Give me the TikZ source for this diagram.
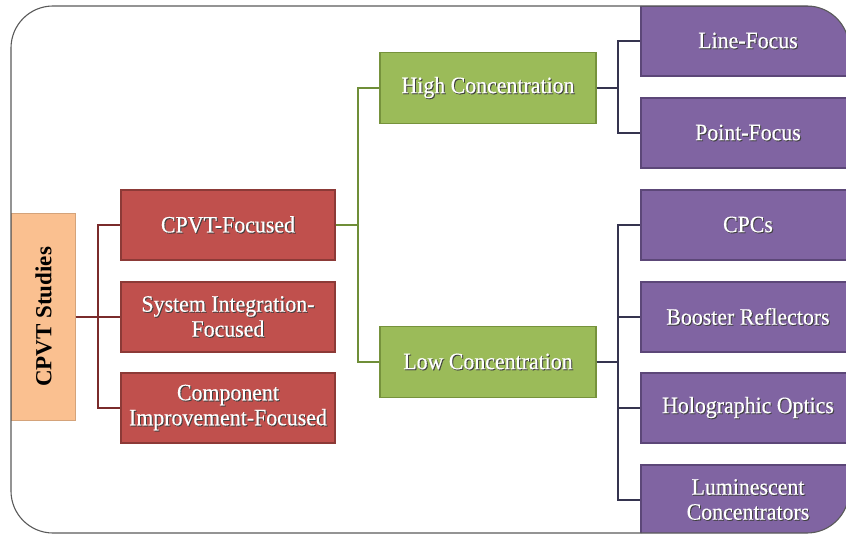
\documentclass[tikz,border=0pt]{standalone}
\usepackage{fontspec}
\setmainfont{Liberation Serif}
\newfontfamily\boxfont{Liberation Serif}[FakeStretch=0.93, FakeBold=0.4]
\usetikzlibrary{positioning}

\definecolor{studyfill}{HTML}{FAC090}
\definecolor{redfill}{HTML}{C0504D}
\definecolor{rededge}{HTML}{8C3A37}
\definecolor{redwire}{HTML}{7A2B2B}
\definecolor{greenfill}{HTML}{9BBB59}
\definecolor{greenedge}{HTML}{76923C}
\definecolor{greenwire}{HTML}{6F8E38}
\definecolor{purplefill}{HTML}{8064A2}
\definecolor{purpleedge}{HTML}{5C4778}
\definecolor{purplewire}{HTML}{35344F}
\definecolor{framegray}{HTML}{5A5A5A}

% white label with a dark drop shadow
\newcommand\shtx[1]{\leavevmode\rlap{\kern1pt\raisebox{-1pt}{\color{black!75}#1}}#1}

\tikzset{
  box/.style={draw, line width=1.4pt, minimum width=214pt, minimum height=70pt,
    inner sep=2pt, align=center, text=white,
    font=\boxfont\fontsize{23.5}{25}\selectfont},
  redbox/.style={box, fill=redfill, draw=rededge},
  greenbox/.style={box, fill=greenfill, draw=greenedge, minimum width=216pt, minimum height=71pt},
  purplebox/.style={box, fill=purplefill, draw=purpleedge},
  studybox/.style={draw=studyfill!85!black, line width=0.6pt, fill=studyfill,
    minimum width=207pt, minimum height=64pt, rotate=90,
    font=\fontsize{23}{26}\selectfont\bfseries, text=black},
  wire/.style={line width=1.6pt},
}

\begin{document}
\begin{tikzpicture}[x=1pt, y=-1pt]
\useasboundingbox (0,0) rectangle (846,535);

\begin{scope}
  \clip[rounded corners=42pt] (11,6) rectangle (849,533);

  % root
  \node[studybox] (studies) at (43.5,317) {CPVT Studies};

  % first level
  \node[redbox] (cf) at (228,225) {\shtx{CPVT-Focused}};
  \node[redbox] (si) at (228,317) {\shtx{System Integration-}\\\shtx{Focused}};
  \node[redbox] (ci) at (228,408) {\shtx{Component}\\\shtx{Improvement-Focused}};

  % concentration level
  \node[greenbox] (hc) at (488,88)  {\shtx{High Concentration}};
  \node[greenbox] (lc) at (488,362) {\shtx{Low Concentration}};

  % concentrator types
  \node[purplebox] (lf) at (748,41)  {\shtx{Line-Focus}};
  \node[purplebox] (pf) at (748,133) {\shtx{Point-Focus}};
  \node[purplebox] (cpc) at (748,225) {\shtx{CPCs}};
  \node[purplebox] (br) at (748,317) {\shtx{Booster Reflectors}};
  \node[purplebox] (ho) at (748,408) {\shtx{Holographic Optics}};
  \node[purplebox] (lu) at (748,500) {\shtx{Luminescent}\\\shtx{Concentrators}};
\end{scope}

% outer frame
\draw[framegray, line width=1.1pt, rounded corners=42pt] (11,6) rectangle (849,533);

% connectors
\foreach \t in {cf,si,ci}
  \draw[wire, redwire] (studies.south) -- ++(22,0) |- (\t.west);
\foreach \t in {hc,lc}
  \draw[wire, greenwire] (cf.east) -- ++(22,0) |- (\t.west);
\foreach \t in {lf,pf}
  \draw[wire, purplewire] (hc.east) -- ++(21,0) |- (\t.west);
\foreach \t in {cpc,br,ho,lu}
  \draw[wire, purplewire] (lc.east) -- ++(21,0) |- (\t.west);
\end{tikzpicture}
\end{document}
